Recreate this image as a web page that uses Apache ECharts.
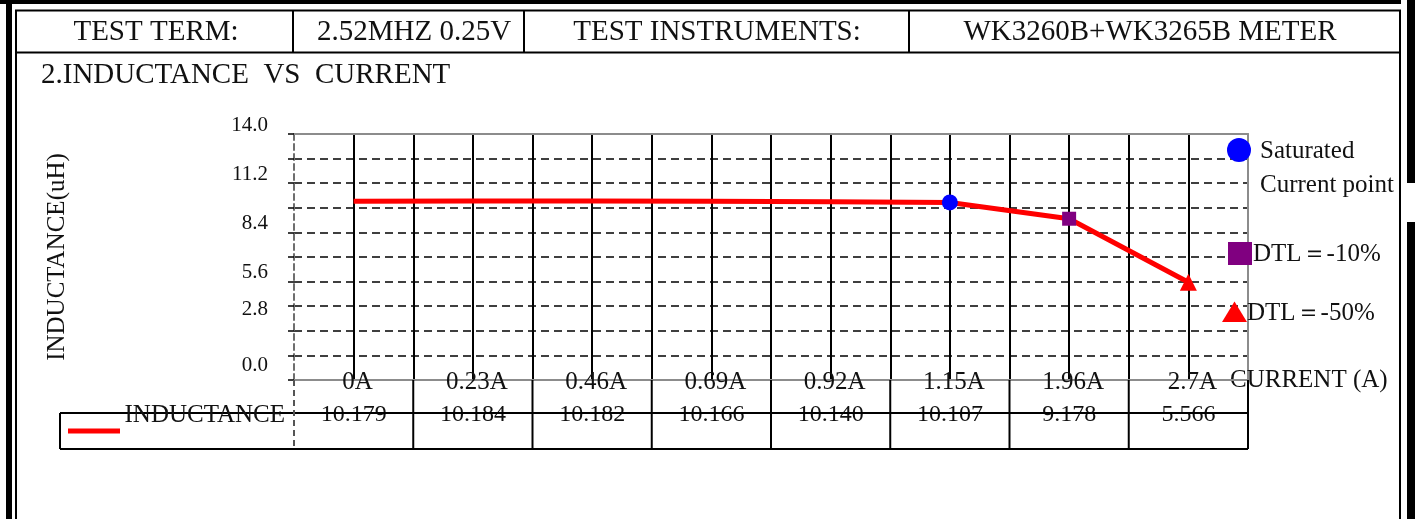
<!DOCTYPE html>
<html><head><meta charset="utf-8">
<script src="https://cdn.jsdelivr.net/npm/echarts@6/dist/echarts.min.js"></script>
<style>html,body{margin:0;padding:0;background:#fff}#c{width:1417px;height:519px}</style>
</head><body><div id="c"></div>
<script>
const categories = ['0A','0.23A','0.46A','0.69A','0.92A','1.15A','1.96A','2.7A'];
const inductance = [10.179,10.184,10.182,10.166,10.140,10.107,9.178,5.566];
const valueLabels = ['10.179','10.184','10.182','10.166','10.140','10.107','9.178','5.566'];
const yTickLabels = ['0.0','2.8','5.6','8.4','11.2','14.0'];
const headerCells = ['TEST TERM:','2.52MHZ 0.25V','TEST INSTRUMENTS:','WK3260B+WK3265B METER'];
const chartTitle = '2.INDUCTANCE  VS  CURRENT';
const seriesName = 'INDUCTANCE';
const legendTexts = ['Saturated','Current point','DTL＝-10%','DTL＝-50%'];

const FONT = "'Liberation Serif','Times New Roman',serif";
const TXT = '#111';
const markers = {
  5: {symbol:'circle', size:16, color:'#0000ff'},
  6: {symbol:'rect', size:14, color:'#800080'},
  7: {symbol:'triangle', size:17, color:'#ff0000'}
};
const isInt = v => Math.abs(v - Math.round(v)) < 1e-6;

const chart = echarts.init(document.getElementById('c'), null, {renderer:'canvas'});
chart.setOption({
  animation:false,
  backgroundColor:'#fff',
  grid:{left:294, top:134, width:954, height:246},
  xAxis:[
    {type:'value', min:-0.5, max:7.5, interval:0.5, position:'bottom',
     axisLine:{show:true, onZero:false, lineStyle:{color:'#8c8c8c', width:2}},
     axisTick:{show:false},
     splitLine:{show:true, showMinLine:false, showMaxLine:false, lineStyle:{color:'#000', width:2, type:'solid'}},
     axisLabel:{formatter: v => isInt(v) ? categories[Math.round(v)] : '', margin:2, verticalAlign:'middle',
       fontFamily:FONT, fontSize:25, color:TXT, padding:[0,0,0,8]},
     name:'CURRENT (A)', nameLocation:'end', nameGap:-18,
     nameTextStyle:{fontFamily:FONT, fontSize:25, color:TXT, align:'left', verticalAlign:'middle', padding:[14,0,0,0]}},
    {type:'value', min:-0.5, max:7.5, interval:0.5, position:'bottom', offset:34,
     axisLine:{show:false, onZero:false}, axisTick:{show:false}, splitLine:{show:false},
     axisLabel:{formatter: v => isInt(v) ? valueLabels[Math.round(v)] : '', margin:1, verticalAlign:'middle',
       fontFamily:FONT, fontSize:24, color:TXT}},
    {type:'value', min:-0.5, max:7.5, position:'top',
     axisLine:{show:true, onZero:false, lineStyle:{color:'#8c8c8c', width:2}}, axisTick:{show:false},
     axisLabel:{show:false}, splitLine:{show:false}}
  ],
  yAxis:[
    {type:'value', min:0, max:14, interval:1.4, position:'left',
     axisLine:{show:true, onZero:false, lineStyle:{color:'#6e6e6e', width:2, type:[6,4]}},
     axisTick:{show:true, length:6, lineStyle:{color:'#000', width:1.5}},
     splitLine:{show:true, showMaxLine:false, lineStyle:{color:'#000', width:1.5, type:[8,5]}},
     axisLabel:{margin:26, fontFamily:FONT, fontSize:21, color:TXT,
       formatter: v => {
         const k = Math.round(v/1.4);
         if (k % 2) return '';
         const s = yTickLabels[k/2];
         if (k === 0) return '{z|' + s + '}';
         if (k === 2) return '{lo|' + s + '}';
         return '{n|' + s + '}';
       },
       rich:{
         n:{fontFamily:FONT, fontSize:21, color:TXT, padding:[0,0,18,0]},
         lo:{fontFamily:FONT, fontSize:21, color:TXT, padding:[0,0,42,0]},
         z:{fontFamily:FONT, fontSize:21, color:TXT, padding:[0,0,30,0]}
       }},
     name:'INDUCTANCE(uH)', nameLocation:'middle', nameGap:224, nameRotate:90,
     nameTextStyle:{fontFamily:FONT, fontSize:25, color:TXT}},
    {type:'value', min:0, max:14, position:'right',
     axisLine:{show:true, onZero:false, lineStyle:{color:'#8c8c8c', width:2}}, axisTick:{show:false},
     axisLabel:{show:false}, splitLine:{show:false}}
  ],
  series:[{
    name:seriesName, type:'line', xAxisIndex:0, yAxisIndex:0, silent:true, z:5,
    showAllSymbol:true,
    lineStyle:{color:'#ff0000', width:5},
    itemStyle:{color:'#ff0000'},
    data: inductance.map((v,i) => {
      const m = markers[i];
      return m ? {value:[i,v], symbol:m.symbol, symbolSize:m.size, itemStyle:{color:m.color}}
               : {value:[i,v], symbol:'none'};
    })
  }]
});

const px = v => chart.convertToPixel({xAxisIndex:0}, v);
const y0 = chart.convertToPixel({yAxisIndex:0}, 0);
const xL = px(-0.5), xR = px(7.5);
const tTop = y0 + 33, tBot = y0 + 69;

const g = [];
const rect = (x,y,w,h) => g.push({type:'rect', shape:{x,y,width:w,height:h}, style:{fill:'#000'}, z:10});
const line = (x1,y1,x2,y2,opt) => g.push({type:'line', shape:{x1,y1,x2,y2},
  style:Object.assign({stroke:'#000', lineWidth:2}, opt||{}), z:10});
const text = (t,x,y,size,align) => g.push({type:'text', z:10,
  style:{text:t, x, y, fill:TXT, font: size + 'px ' + FONT, align:align||'left', verticalAlign:'middle'}});

// outer frame
rect(0,0,1401,4);
rect(6,0,6,519);
rect(1407,0,8,183);
rect(1407,222,8,297);
line(16,10,16,519);
line(1400,10,1400,519);
// header row
line(15,10.5,1401,10.5);
line(15,52.5,1401,52.5);
line(293,10,293,52);
line(524,10,524,52);
line(909,10,909,52);
const headerX = [156,414,717,1150];
headerCells.forEach((t,i) => text(t, headerX[i], 32, 29, 'center'));
text(chartTitle, 41, 75, 29, 'left');

// data table below the plot
line(60, tTop, xR, tTop);
line(60, tBot, xR, tBot);
line(60, tTop, 60, tBot);
line(xL, y0, xL, tBot, {stroke:'#555', lineDash:[6,4]});
for (let i = 0; i < categories.length; i++) {
  const xb = px(i + 0.5);
  line(xb, y0, xb, tBot);
}
text(seriesName, 285, tTop + 2, 25, 'right');
line(68, tTop + 18, 120, tTop + 18, {stroke:'#ff0000', lineWidth:5});

// marker key on the right
g.push({type:'circle', shape:{cx:1239, cy:150, r:12}, style:{fill:'#0000ff'}, z:10});
g.push({type:'rect', shape:{x:1228, y:242, width:24, height:23}, style:{fill:'#800080'}, z:10});
g.push({type:'polygon', shape:{points:[[1234.5,301.5],[1222,322],[1247,322]]}, style:{fill:'#ff0000'}, z:10});
text(legendTexts[0], 1260, 151, 25, 'left');
text(legendTexts[1], 1260, 185, 25, 'left');
text(legendTexts[2], 1253, 254, 25, 'left');
text(legendTexts[3], 1247, 313, 25, 'left');

chart.setOption({graphic:g});
</script>
</body></html>
